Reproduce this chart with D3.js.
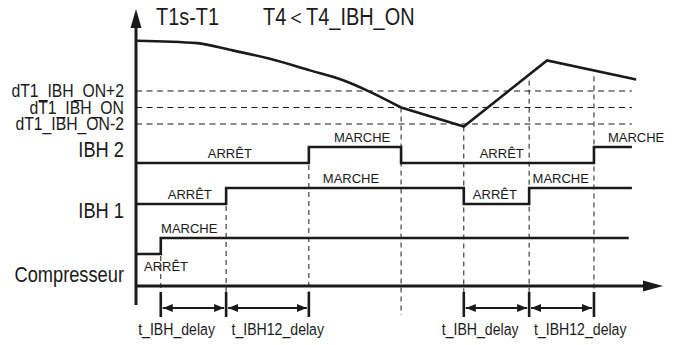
<!DOCTYPE html>
<html>
<head>
<meta charset="utf-8">
<script src="https://cdn.jsdelivr.net/npm/d3@7"></script>
<style>
  html, body { margin: 0; padding: 0; background: #fff; }
  svg text { font-family: "Liberation Sans", Arial, sans-serif; fill: #1a1a1a; }
</style>
</head>
<body>
<div id="chart"></div>
<script>
// T1s-T1 curve (relative to dT1_IBH_ON = 0), time in arbitrary units 0..100
const curveSmooth = [
  { t: 0.2, v: 8.1 }, { t: 11.6, v: 7.8 }, { t: 17.8, v: 7.0 }, { t: 25.4, v: 5.9 },
  { t: 33.0, v: 4.5 }, { t: 39.3, v: 3.3 }, { t: 44.4, v: 1.9 }, { t: 50.3, v: 0 }
];
const curveStraight = [
  { t: 50.3, v: 0 }, { t: 62.2, v: -2.3 }, { t: 78.0, v: 5.7 }, { t: 94.9, v: 3.4 }
];

// threshold lines
const thresholds = [2, 0, -2];
const thresholdLabels = ["dT1_IBH_ON+2", "dT1_IBH_ON", "dT1_IBH_ON-2"];

// on/off signals: [time, state]
const rowNames = ["IBH 2", "IBH 1", "Compresseur"];
const ibh2 = [[0, 0], [32.8, 1], [50.3, 0], [86.9, 1], [94.1, 1]];
const ibh1 = [[0, 0], [17.1, 1], [62.2, 0], [74.6, 1], [94.1, 1]];
const comp = [[0, 0], [4.7, 1], [93.5, 1]];
const signals = [ibh2, ibh1, comp];

// state labels: [row, time of centre, state, text, side]
const stateLabels = [
  ["IBH 2", 17.8, 0, "ARRÊT", "above"], ["IBH 2", 42.9, 1, "MARCHE", "above"],
  ["IBH 2", 69.4, 0, "ARRÊT", "above"], ["IBH 2", 94.9, 1, "MARCHE", "above"],
  ["IBH 1", 10.2, 0, "ARRÊT", "above"], ["IBH 1", 40.8, 1, "MARCHE", "above"],
  ["IBH 1", 68.1, 0, "ARRÊT", "above"], ["IBH 1", 80.6, 1, "MARCHE", "above"],
  ["Compresseur", 10.1, 1, "MARCHE", "above"], ["Compresseur", 5.7, 0, "ARRÊT", "below"]
];

// vertical dashed event lines
const eventTimes = [4.7, 17.1, 32.8, 50.3, 62.2, 74.6, 86.9];
const eventTops = ["Compresseur", "IBH 1", "IBH 2", "curve", "curve", "curve", "curve"];

// delay intervals and their labels
const delays = [[4.7, 17.1], [17.1, 32.8], [62.2, 74.6], [74.6, 86.9]];
const delayLabels = ["t_IBH_delay", "t_IBH12_delay", "t_IBH_delay", "t_IBH12_delay"];
const delayLabelPos = [7.7, 26.9, 65.3, 84.3];

const width = 678, height = 345;
const narrow = 0.83;
const ink = "#1a1a1a";

const svg = d3.select("#chart").append("svg")
  .attr("width", width).attr("height", height);

const xScale = d3.scaleLinear().domain([0, 100]).range([136, 663]);
const yScale = d3.scaleLinear().domain([-2, 2]).range([124, 91]);
const rowLow = d3.scaleOrdinal().domain(rowNames).range([163, 204, 254]);
const rowHigh = 16;
const rowLabelY = d3.scaleOrdinal().domain(rowNames).range([157, 218, 282]);
const axisY = 286;

// narrow text helper
function ntext(x, y, str, size, anchor) {
  svg.append("text")
    .attr("transform", `translate(${x},${y}) scale(${narrow},1)`)
    .attr("text-anchor", anchor || "start")
    .attr("font-size", size)
    .text(str);
}

// threshold dashed lines
svg.append("g").selectAll("line").data(thresholds).join("line")
  .attr("x1", xScale(0)).attr("x2", xScale(94.1))
  .attr("y1", d => yScale(d)).attr("y2", d => yScale(d))
  .attr("stroke", ink).attr("stroke-width", 1).attr("stroke-dasharray", "6,4.5");

thresholdLabels.forEach((s, i) => ntext(124, yScale(thresholds[i]) + 6, s, 19, "end"));

// curve value on the straight part
const valueAt = t => {
  const pts = curveStraight;
  for (let i = 0; i < pts.length - 1; i++) {
    if (t >= pts[i].t && t <= pts[i + 1].t) {
      const f = (t - pts[i].t) / (pts[i + 1].t - pts[i].t);
      return pts[i].v + f * (pts[i + 1].v - pts[i].v);
    }
  }
  return 0;
};

// vertical event lines
eventTimes.forEach((t, i) => {
  const top = eventTops[i];
  let y1 = top === "curve" ? yScale(valueAt(t)) : rowLow(top) - rowHigh;
  if (top === "curve" && i > 4) y1 += 6;
  const y2 = i === 3 ? 315 : 292;
  svg.append("line")
    .attr("x1", xScale(t)).attr("x2", xScale(t))
    .attr("y1", y1).attr("y2", y2)
    .attr("stroke", ink).attr("stroke-width", 1).attr("stroke-dasharray", "5,4");
});

const lineSmooth = d3.line().x(d => xScale(d.t)).y(d => yScale(d.v)).curve(d3.curveMonotoneX);
const lineStraight = d3.line().x(d => xScale(d.t)).y(d => yScale(d.v));
svg.append("path").attr("d", lineSmooth(curveSmooth))
  .attr("fill", "none").attr("stroke", ink).attr("stroke-width", 2.6);
svg.append("path").attr("d", lineStraight(curveStraight))
  .attr("fill", "none").attr("stroke", ink).attr("stroke-width", 2.6).attr("stroke-linejoin", "miter");

// signals
signals.forEach((sig, i) => {
  const name = rowNames[i];
  const line = d3.line()
    .x(d => xScale(d[0]))
    .y(d => rowLow(name) - d[1] * rowHigh)
    .curve(d3.curveStepAfter);
  svg.append("path").attr("d", line(sig))
    .attr("fill", "none").attr("stroke", ink).attr("stroke-width", 2.6);
  ntext(124, rowLabelY(name), name, 22, "end");
});

stateLabels.forEach(([row, t, st, s, side]) => {
  const level = rowLow(row) - st * rowHigh;
  const y = side === "below" ? level + 17 : level - 5;
  svg.append("text")
    .attr("x", xScale(t)).attr("y", y)
    .attr("text-anchor", "middle").attr("font-size", 13).text(s);
});

// axes
svg.append("line")
  .attr("x1", xScale(0)).attr("x2", xScale(0)).attr("y1", 305).attr("y2", 26)
  .attr("stroke", ink).attr("stroke-width", 3);
svg.append("path")
  .attr("d", `M${xScale(0)},9 L${xScale(0) - 5.5},28 L${xScale(0) + 5.5},28 Z`)
  .attr("fill", ink);
svg.append("line")
  .attr("x1", xScale(0)).attr("x2", xScale(100) - 18).attr("y1", axisY).attr("y2", axisY)
  .attr("stroke", ink).attr("stroke-width", 3);
svg.append("path")
  .attr("d", `M${xScale(100)},${axisY} L${xScale(100) - 20},${axisY - 5.5} L${xScale(100) - 20},${axisY + 5.5} Z`)
  .attr("fill", ink);

// titles
ntext(156, 25, "T1s-T1", 24);
ntext(263, 25, "T4＜T4_IBH_ON", 24);

// delay arrows
svg.append("defs").selectAll("marker").data(["s", "e"]).join("marker")
  .attr("id", d => "arr-" + d)
  .attr("viewBox", "0 0 10 8").attr("refX", d => d === "e" ? 10 : 0).attr("refY", 4)
  .attr("markerWidth", 10).attr("markerHeight", 8).attr("markerUnits", "userSpaceOnUse")
  .attr("orient", "auto")
  .append("path")
  .attr("d", d => d === "e" ? "M0,0 L10,4 L0,8 Z" : "M10,0 L0,4 L10,8 Z")
  .attr("fill", ink);

delays.forEach(([a, b]) => {
  svg.append("line")
    .attr("x1", xScale(a) + 2).attr("x2", xScale(b) - 2).attr("y1", 308).attr("y2", 308)
    .attr("stroke", ink).attr("stroke-width", 2)
    .attr("marker-start", "url(#arr-s)").attr("marker-end", "url(#arr-e)");
});
const bars = Array.from(new Set(delays.flat()));
svg.append("g").selectAll("line").data(bars).join("line")
  .attr("x1", d => xScale(d)).attr("x2", d => xScale(d))
  .attr("y1", 292).attr("y2", 317)
  .attr("stroke", ink).attr("stroke-width", 2.6);

delayLabels.forEach((s, i) => ntext(xScale(delayLabelPos[i]), 335, s, 17, "middle"));
</script>
</body>
</html>
